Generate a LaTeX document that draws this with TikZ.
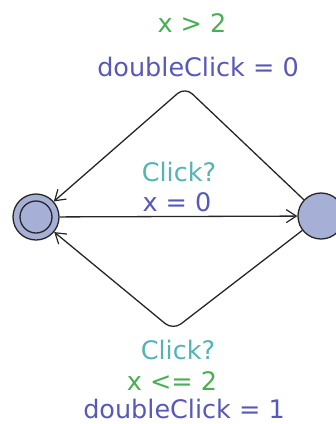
\documentclass[tikz,border=0pt]{standalone}
\usepackage{fontspec}
\setmainfont{DejaVu Sans}
\usetikzlibrary{arrows.meta}
\definecolor{locfill}{RGB}{166,176,214}
\definecolor{guardc}{RGB}{72,176,82}
\definecolor{syncc}{RGB}{84,180,180}
\definecolor{assignc}{RGB}{88,88,186}
\tikzset{
  loc/.style={circle,draw=black!85,line width=1.3pt,fill=locfill,minimum size=46pt,inner sep=0pt},
  lbl/.style={inner sep=0pt,anchor=base,font=\fontsize{25.5}{30}\selectfont},
  guard/.style={lbl,text=guardc},
  sync/.style={lbl,text=syncc},
  assign/.style={lbl,text=assignc},
  edge/.style={draw=black!85,line width=1.3pt,-{Straight Barb[length=10pt,width=13pt,line width=1.2pt]}}
}
\begin{document}
\begin{tikzpicture}[x=1pt,y=-1pt]
\useasboundingbox (0,0) rectangle (336,424);
\node[loc] (l) at (36,217) {};
\draw[black!85,line width=1.3pt] (l.center) circle (16pt);
\node[loc] (r) at (321,216) {};
\coordinate (top) at (185,87);
\coordinate (bot) at (173,330);
\draw[edge] (l) -- (r);
\draw[edge,rounded corners=10pt] (r) -- (top) -- (l);
\draw[edge,rounded corners=10pt] (r) -- (bot) -- (l);
\node[guard] (g1) at (192,32) {x > 2};
\node[assign] (a1) at (198,76) {doubleClick = 0};
\node[sync] (s0) at (179,181.5) {Click?};
\node[assign] (a0) at (177,211.5) {x = 0};
\node[sync] (s2) at (178,359) {Click?};
\node[guard] (g2) at (172,390) {x <= 2};
\node[assign] (a2) at (184,418) {doubleClick = 1};
\end{tikzpicture}
\end{document}
